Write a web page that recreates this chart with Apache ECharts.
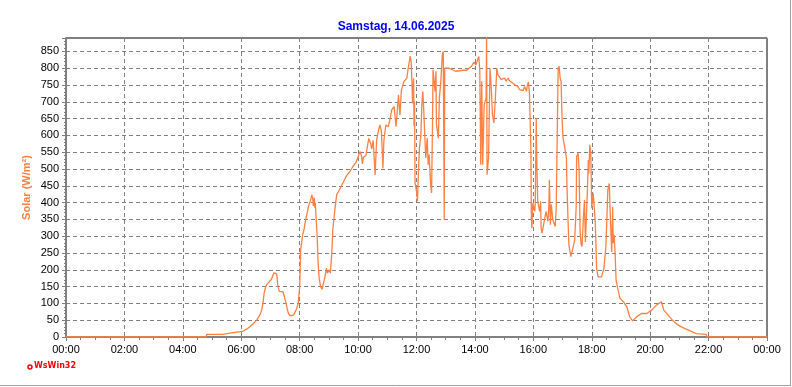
<!DOCTYPE html>
<html>
<head>
<meta charset="utf-8">
<script src="https://cdn.jsdelivr.net/npm/echarts@6/dist/echarts.min.js"></script>
<style>html,body{margin:0;padding:0;background:#fff}#c{width:792px;height:387px}</style>
</head>
<body>
<div id="c"></div>
<script>
// time of day in minutes since 00:00
var times = [0,288,289,322,323,343,344,363,364,372,378,385,392,398,402,405,407,410,412,416,419,422,424,427,431,433,435,438,442,446,450,452,455,457,461,464,468,471,474,477,480,
481,482,484,486,489,491,494,498,502,505,507,508,510,511,512,514,516,518,520,523,526,529,532,535,537,539,541,543,546,548,553,556,563,570,577,583,590,596,600,604,607,609,611,616,619,622,626,628,631,635,638,642,645,648,651,653,657,662,666,669,674,678,683,686,689,694,700,703,707,709,710,712,713,714,715,716,717,
720,722,724,726,729,731,733,735,737,739,742,744,746,749,751,753,754,758,760,761,765,767,770,773,775,776,777,778,787,800,816,823,828,833,838,842,845,848,850,852,854,856,859,863,864,865,868,871,874,876,879,882,885,
887,891,894,898,901,904,908,911,915,922,928,932,935,939,942,946,948,950,952,955,956,957,959,963,964,966,967,969,971,973,975,976,978,981,983,986,990,992,993,995,997,1000,1002,1005,1007,1009,1011,1013,1015,1017,1019,1021,1023,1026,1028,1029,1030,
1033,1037,1039,1042,1045,1048,1049,1052,1054,1056,1058,1060,1063,1065,1067,1071,1073,1074,1076,1078,1080,1083,1087,1089,1090,1093,1100,1105,1109,1111,1113,1116,1118,1121,1123,1124,1126,1128,1130,1134,1138,1145,1152,1158,1164,1172,1182,1193,1203,1213,1223,1228,1237,1247,1257,1264,1282,1295,1315,1317,1440];
// solar radiation in W/m²
var solar = [0,0,8,8,13,13,17,17,20,24,31,40,51,65,80,105,131,148,155,162,165,172,168,191,190,188,155,136,140,134,136,101,80,70,63,62,66,70,85,100,150,
200,259,280,304,320,338,360,388,405,423,410,390,415,385,400,348,298,219,175,150,142,140,180,205,190,185,200,190,249,318,388,423,442,462,482,492,509,520,515,552,540,515,535,540,566,591,575,560,585,482,585,616,631,611,502,585,631,626,651,676,686,626,720,660,735,760,770,800,836,820,785,696,740,770,627,700,460,
434,404,493,562,602,691,731,672,602,533,592,513,543,453,429,652,796,731,791,632,592,711,761,840,850,597,349,800,800,791,794,794,800,806,818,810,815,835,794,513,761,513,691,711,900,483,533,800,731,662,637,711,800,
781,773,766,761,771,761,771,763,759,751,746,736,741,733,746,731,751,759,726,557,354,324,399,374,399,652,533,404,399,374,404,324,309,334,349,374,344,394,468,334,394,349,354,329,384,384,800,806,771,761,652,592,577,582,533,453,404,
274,239,239,269,289,388,537,547,497,318,278,269,358,408,283,433,527,487,572,547,383,428,348,259,204,179,179,204,269,348,438,457,363,253,388,279,304,248,169,140,115,105,90,60,48,60,70,70,80,95,105,80,65,48,36,30,18,10,8,0,0];
var xTickStep = 120; // minutes between labelled ticks
var yTickStep = 50;  // W/m² between labelled ticks
var titleText = 'Samstag, 14.06.2025';
var yName = 'Solar (W/m²)';

var data = times.map(function(t, i){ return [t, solar[i]]; });
function hhmm(v){ var h = Math.floor(v/60) % 24; var m = v % 60; return (h<10?'0':'')+h+':'+(m<10?'0':'')+m; }

var chart = echarts.init(document.getElementById('c'), null, {renderer:'canvas'});
chart.setOption({
  animation: false,
  backgroundColor: '#fff',
  title: {
    text: titleText, left: 'center', top: 16,
    textStyle: {color:'#0000FF', fontSize:12, fontWeight:'bold', fontFamily:'Liberation Sans, Arial, sans-serif'}
  },
  grid: {left:66, right:25, top:38, bottom:50, show:true, borderColor:'#000', borderWidth:1, backgroundColor:'#fff'},
  xAxis: {
    type:'value', min:0, max:1440, interval:xTickStep,
    axisLine:{show:true, onZero:false, lineStyle:{color:'#808080', width:2}},
    axisTick:{show:true, length:4, lineStyle:{color:'#808080'}},
    minorTick:{show:true, splitNumber:4, length:3, lineStyle:{color:'#808080'}},
    axisLabel:{color:'#000', fontSize:11, margin:7, fontFamily:'Liberation Sans, Arial, sans-serif', formatter:function(v){return hhmm(v);}},
    splitLine:{show:true, lineStyle:{color:'#808080', type:[4,3], width:1}}
  },
  yAxis: {
    type:'value', min:0, max:890, interval:yTickStep,
    name: yName, nameLocation:'middle', nameGap:34, nameMoveOverlap:false,
    nameTextStyle:{color:'#FF8040', fontSize:11, fontWeight:'bold', fontFamily:'Liberation Sans, Arial, sans-serif'},
    axisLine:{show:true, lineStyle:{color:'#808080', width:2}},
    axisTick:{show:true, length:4, lineStyle:{color:'#808080'}},
    minorTick:{show:true, splitNumber:5, length:2, lineStyle:{color:'#808080'}},
    axisLabel:{color:'#000', fontSize:11, margin:7, fontFamily:'Liberation Sans, Arial, sans-serif',
      formatter:function(v){ return (v % yTickStep === 0) ? String(v) : ''; }},
    splitLine:{show:true, lineStyle:{color:'#808080', type:[4,3], width:1}}
  },
  series: [{
    type:'line', data:data, showSymbol:false, symbol:'none', clip:true,
    lineStyle:{color:'#FF8040', width:1.3}
  }],
  graphic: [
    {type:'circle', shape:{cx:30, cy:367, r:2}, style:{fill:'#fff', stroke:'#FF0000', lineWidth:1.5}},
    {type:'text', left:34, top:362, style:{text:'WsWin32', fill:'#FF0000', fontSize:8, fontWeight:'bold', fontFamily:'DejaVu Sans, sans-serif'}},
    {type:'line', shape:{x1:790.5, y1:0, x2:790.5, y2:386}, style:{stroke:'#A0A0A0', lineWidth:1}},
    {type:'line', shape:{x1:0, y1:385.5, x2:791, y2:385.5}, style:{stroke:'#A0A0A0', lineWidth:1}}
  ]
});
</script>
</body>
</html>
